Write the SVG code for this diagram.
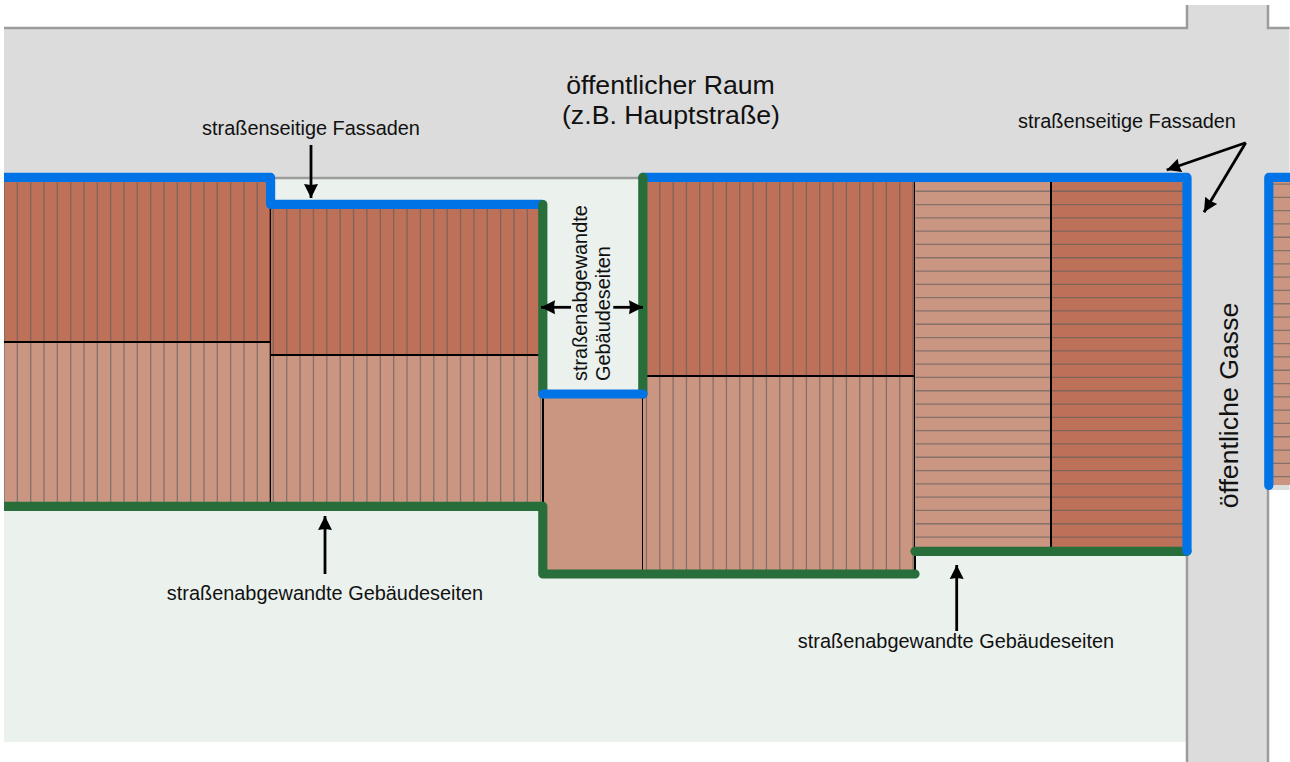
<svg xmlns="http://www.w3.org/2000/svg" width="1290" height="762" viewBox="0 0 1290 762">
<style>
text{font-family:"Liberation Sans",Arial,sans-serif;fill:#111}
.s{font-size:19.9px}.m{font-size:26.7px}.c{text-anchor:middle}
.edge{fill:none;stroke:#9c9c9c;stroke-width:2.5}
.dk{fill:#bd7159}.lt{fill:#ca9681}
.st{fill:none;stroke:#5a5a5a;stroke-opacity:.62}
.bk{fill:none;stroke:#000;stroke-width:2}
.bl{fill:none;stroke:#0073e6;stroke-width:9.2;stroke-linecap:round;stroke-linejoin:round}
.gr{fill:none;stroke:#286e3a;stroke-width:9.2;stroke-linecap:round;stroke-linejoin:round}
.ar{stroke:#000;stroke-width:2.8;fill:none;marker-end:url(#h)}
</style>
<defs>
<marker id="h" markerUnits="userSpaceOnUse" markerWidth="16" markerHeight="16" refX="14" refY="7.5" orient="auto"><path d="M0 0.5L14 7.5L0 14.5L1 7.5Z" fill="#000"/></marker>
</defs>
<rect width="1290" height="762" fill="#fff"/>
<g id="ground">
<path d="M4 28H1187V5H1268V28H1289.5V490H1268V762H1187V742H4Z" fill="#dcdcdc"/>
<rect x="4" y="178" width="1183" height="564" fill="#ebf1ed"/>
<path class="edge" d="M4 28H1187V5M1268 5V28H1289.5M4 178H1187M1187 550V762M1268 488V762"/>
</g>
<g id="building-1">
<rect class="dk" x="4" y="180" width="267" height="162"/><rect class="lt" x="4" y="342" width="267" height="162"/>
<line class="st" x1="4" y1="261" x2="270" y2="261" stroke-width="162" stroke-dasharray="1.3 12.03" stroke-dashoffset="-12.7"/>
<line class="st" x1="4" y1="423" x2="270" y2="423" stroke-width="160" stroke-dasharray="1.3 12.03" stroke-dashoffset="-12.7"/>
<path class="bk" d="M4 342H271M270.7 205V504"/>
</g>
<g id="building-2">
<rect class="dk" x="271" y="204" width="271" height="151"/><rect class="lt" x="271" y="355" width="271" height="149"/>
<line class="st" x1="271" y1="280" x2="541" y2="280" stroke-width="150" stroke-dasharray="1.3 12.07" stroke-dashoffset="-1.7"/>
<line class="st" x1="271" y1="429" x2="541" y2="429" stroke-width="148" stroke-dasharray="1.3 12.07" stroke-dashoffset="-1.7"/>
<path class="bk" d="M271 355H542"/>
</g>
<g id="building-3">
<rect class="lt" x="543" y="394" width="100" height="178"/>
<path class="bk" d="M543 394V572M643 394V572"/>
</g>
<g id="building-4">
<rect class="dk" x="643" y="178" width="272" height="198"/><rect class="lt" x="643" y="376" width="272" height="196"/>
<line class="st" x1="643" y1="277" x2="914" y2="277" stroke-width="198" stroke-dasharray="1.3 12.03" stroke-dashoffset="-2.8"/>
<line class="st" x1="643" y1="473" x2="914" y2="473" stroke-width="194" stroke-dasharray="1.3 12.03" stroke-dashoffset="-2.8"/>
<path class="bk" d="M643 376H915M915 178V572"/>
</g>
<g id="building-5">
<rect class="lt" x="915" y="180" width="136" height="368"/><rect class="dk" x="1051" y="180" width="136" height="368"/>
<line class="st" x1="983" y1="180" x2="983" y2="548" stroke-width="135" stroke-dasharray="1.3 12" stroke-dashoffset="-10.6"/>
<line class="st" x1="1119" y1="180" x2="1119" y2="548" stroke-width="135" stroke-dasharray="1.3 12" stroke-dashoffset="-10.6"/>
<path class="bk" d="M1051 180V548"/>
</g>
<g id="building-6">
<rect class="lt" x="1269" y="180" width="21" height="305"/>
<line class="st" x1="1280" y1="180" x2="1280" y2="485" stroke-width="21" stroke-dasharray="1.3 12" stroke-dashoffset="-3.4"/>
</g>
<g id="connectors">
<path class="gr" d="M0 506.3H542.8V574H915"/>
<path class="gr" d="M915 551.3H1187"/>
<path class="bl" d="M0 177.4H270.6V204.3H542"/>
<path class="bl" d="M643 177.4H1187V551"/>
<path class="bl" d="M1290 177.4H1268.8V485.5"/>
<path class="gr" d="M542.8 204.5V394"/>
<path class="gr" d="M642.8 177.4V394"/>
<path class="bl" d="M543 394H643"/>
<rect x="0" y="170" width="4" height="345" fill="#fff"/>
<path class="ar" d="M311 145V198"/>
<path class="ar" d="M571 307.3H541"/>
<path class="ar" d="M613.3 307.3H643"/>
<path class="ar" d="M1245.7 142.7L1166.7 170"/>
<path class="ar" d="M1245.7 142.7L1204 212.3"/>
<path class="ar" d="M325 574V516"/>
<path class="ar" d="M956.7 631V565"/>
</g>
<g id="labels">
<text class="m c" x="670.5" y="94">öffentlicher Raum</text>
<text class="m c" x="671" y="124">(z.B. Hauptstraße)</text>
<text class="s c" x="311" y="134.500">straßenseitige Fassaden</text>
<text class="s c" x="1127" y="127.500">straßenseitige Fassaden</text>
<text class="s c" x="325" y="600">straßenabgewandte Gebäudeseiten</text>
<text class="s c" x="956" y="648">straßenabgewandte Gebäudeseiten</text>
<text class="s" transform="translate(587 381) rotate(-90)">straßenabgewandte</text>
<text class="s" transform="translate(610 381) rotate(-90)">Gebäudeseiten</text>
<text class="m c" transform="translate(1238 405.5) rotate(-90)">öffentliche Gasse</text>
</g>
</svg>
